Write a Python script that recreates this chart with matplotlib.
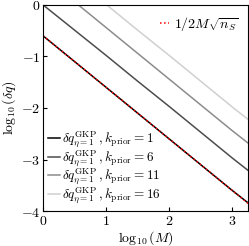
import numpy as np
import matplotlib
matplotlib.use("Agg")
import matplotlib.pyplot as plt

plt.rcParams['mathtext.fontset'] = 'cm'
plt.rcParams['font.family'] = 'serif'
plt.rcParams['font.serif'] = ['DejaVu Serif']

# log10(M) grid and log10(delta q)
logM = [0.0, 0.5, 1.0, 1.5, 2.0, 2.5, 3.0, 3.25]
dq_k1 = [-0.60, -1.10, -1.60, -2.10, -2.60, -3.10, -3.60, -3.84]
dq_k6 = [0.00, -0.49, -0.98, -1.48, -1.97, -2.47, -2.97, -3.21]
dq_k11 = [0.55, 0.06, -0.44, -0.94, -1.44, -1.94, -2.44, -2.68]
dq_k16 = [1.00, 0.51, 0.01, -0.49, -0.98, -1.48, -1.98, -2.22]
bound = [-0.60, -1.10, -1.60, -2.10, -2.60, -3.10, -3.60, -3.85]

k_prior = [1, 6, 11, 16]
colors = ['#000000', '#4d4d4d', '#8c8c8c', '#d0d0d0']

fig = plt.figure(figsize=(2.49, 2.46), dpi=100)
ax = fig.add_axes([0.173, 0.142, 0.823, 0.838])

lines = []
for k, y, c in zip(k_prior, [dq_k1, dq_k6, dq_k11, dq_k16], colors):
    l, = ax.plot(logM, y, color=c, lw=1.1,
                 label=r'$\delta q^{\rm GKP}_{\eta=1}\,,k_{\rm prior}=%d$' % k)
    lines.append(l)

b, = ax.plot(logM, bound, color='red', ls=':', lw=1.1,
             label=r'$1/2M\sqrt{n_S}$')

ax.set_xlim(0, 3.25)
ax.set_ylim(-4, 0)
ax.set_xticks([0, 1, 2, 3])
ax.set_yticks([-4, -3, -2, -1, 0])
ax.tick_params(direction='in', labelsize=10, length=3, pad=2)
ax.xaxis.set_major_formatter(plt.FuncFormatter(lambda v, p: r'$%d$' % v))
ax.yaxis.set_major_formatter(plt.FuncFormatter(lambda v, p: r'$%d$' % v))

ax.set_xlabel(r'$\log_{10}(M)$', fontsize=10, labelpad=1)
ax.set_ylabel(r'$\log_{10}(\delta q)$', fontsize=10, labelpad=2)

leg1 = ax.legend(handles=lines, loc='lower left', frameon=False, fontsize=9.5,
                 handlelength=0.9, handletextpad=0.1, labelspacing=-0.12,
                 borderaxespad=0.1, borderpad=0.3)
ax.add_artist(leg1)
ax.legend(handles=[b], loc='upper right', frameon=False, fontsize=10,
          handlelength=0.7, handletextpad=0.3, borderaxespad=0.3)

fig.savefig("out.png", dpi=100)
